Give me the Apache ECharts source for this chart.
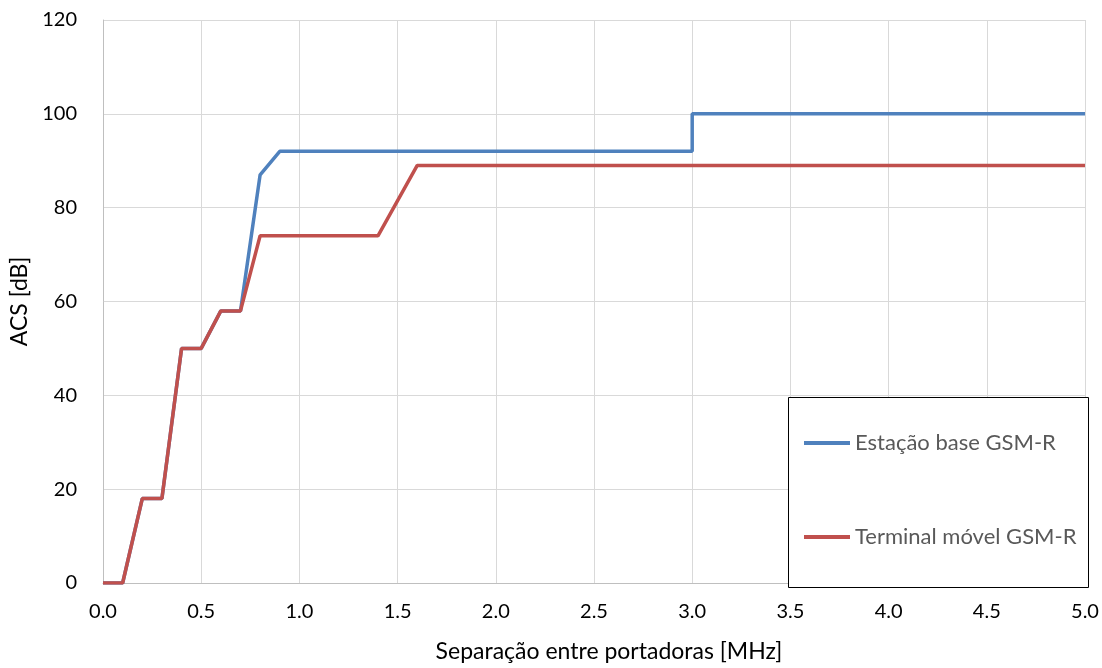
<!DOCTYPE html>
<html>
<head>
<meta charset="utf-8">
<script src="https://cdn.jsdelivr.net/npm/echarts@6/dist/echarts.min.js"></script>
<style>html,body{margin:0;padding:0;background:#fff}#c{width:1102px;height:668px}</style>
</head>
<body>
<div id="c"></div>
<script>
const xTicks = ['0.0','0.5','1.0','1.5','2.0','2.5','3.0','3.5','4.0','4.5','5.0'];
const yTicks = [0, 20, 40, 60, 80, 100, 120];
const seriesNames = ['Estação base GSM-R', 'Terminal móvel GSM-R'];
const baseX = [0, 0.1, 0.2, 0.3, 0.4, 0.5, 0.6, 0.7, 0.8, 0.9, 3.0, 3.0, 5.0];
const baseY = [0, 0, 18, 18, 50, 50, 58, 58, 87, 92, 92, 100, 100];
const termX = [0, 0.1, 0.2, 0.3, 0.4, 0.5, 0.6, 0.7, 0.8, 1.4, 1.6, 5.0];
const termY = [0, 0, 18, 18, 50, 50, 58, 58, 74, 74, 89, 89];
const xName = 'Separação entre portadoras [MHz]';
const yName = 'ACS [dB]';

const pair = (xs, ys) => xs.map((x, i) => [x, ys[i]]);
const font = 'Lato, "Open Sans", sans-serif';
const chart = echarts.init(document.getElementById('c'));
chart.setOption({
  animation: false,
  backgroundColor: '#ffffff',
  textStyle: { fontFamily: font },
  grid: { left: 103, right: 17, top: 20, bottom: 84, containLabel: false },
  graphic: [{
    type: 'rect', left: 788, top: 397, z: 10,
    shape: { width: 300, height: 190 },
    style: { fill: '#ffffff', stroke: '#000000', lineWidth: 1 }
  }],
  legend: {
    orient: 'vertical', left: 804, top: 432, z: 20, padding: 0,
    itemGap: 72, itemWidth: 46, itemHeight: 4, icon: 'rect',
    textStyle: { color: '#595959', fontSize: 22, fontFamily: font, padding: [0, 0, 0, 0] },
    data: seriesNames
  },
  xAxis: {
    type: 'value', min: 0, max: 5, interval: 0.5,
    name: xName, nameLocation: 'middle', nameGap: 57,
    nameTextStyle: { color: '#000', fontSize: 23, fontFamily: font, padding: [0, 0, 0, 30] },
    axisLine: { show: true, lineStyle: { color: '#bfbfbf', width: 1 } },
    axisTick: { show: false },
    axisLabel: { color: '#000', fontSize: 20, margin: 19, formatter: (v) => xTicks[Math.round(v * 2)] },
    splitLine: { show: true, lineStyle: { color: '#d9d9d9', width: 1 } }
  },
  yAxis: {
    type: 'value', min: 0, max: 120, interval: 20,
    name: yName, nameLocation: 'middle', nameGap: 67,
    nameTextStyle: { color: '#000', fontSize: 23, fontFamily: font },
    axisLine: { show: true, lineStyle: { color: '#bfbfbf', width: 1 } },
    axisTick: { show: false },
    axisLabel: { color: '#000', fontSize: 20, margin: 26, formatter: (v) => yTicks.includes(v) ? String(v) : '' },
    splitLine: { show: true, lineStyle: { color: '#d9d9d9', width: 1 } }
  },
  series: [
    { name: seriesNames[0], type: 'line', data: pair(baseX, baseY), showSymbol: false, symbol: 'none',
      lineStyle: { color: '#4f81bd', width: 3.5 }, itemStyle: { color: '#4f81bd' }, z: 3 },
    { name: seriesNames[1], type: 'line', data: pair(termX, termY), showSymbol: false, symbol: 'none',
      lineStyle: { color: '#c0504d', width: 3.5 }, itemStyle: { color: '#c0504d' }, z: 4 }
  ]
});
</script>
</body>
</html>
